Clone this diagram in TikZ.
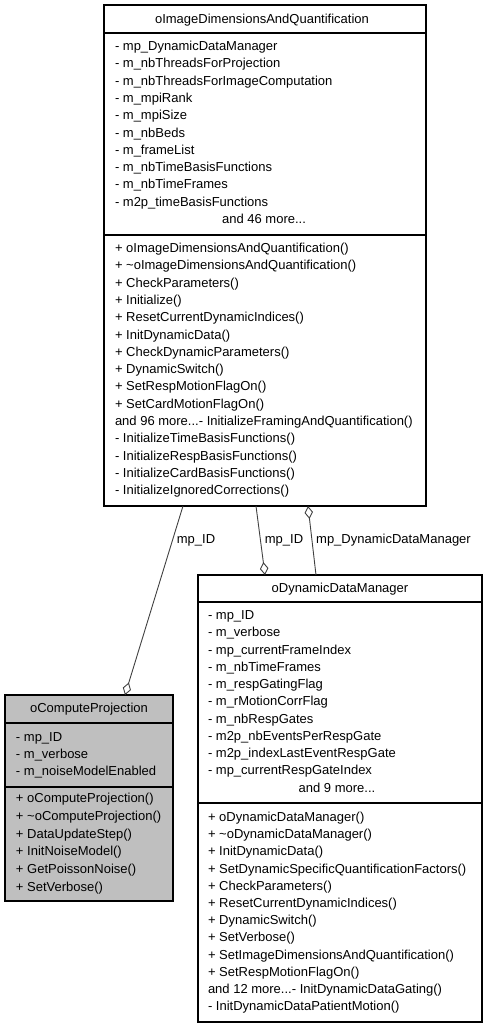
\documentclass[tikz,border=0pt]{standalone}
\usepackage{fontspec}
\setmainfont{Liberation Sans}
\usetikzlibrary{arrows.meta}
\newcommand{\moredots}{...}
\begin{document}
\begin{tikzpicture}[x=1pt,y=-1pt,
  every node/.style={font=\fontsize{13}{17.3}\selectfont, inner sep=0pt, outer sep=0pt},
  classbox/.style={draw=black, line width=1.2pt, rectangle, anchor=north west},
  grayfill/.style={fill=gray!50},
  memb/.style={anchor=base west},
  ctr/.style={anchor=base},
  sep/.style={draw=black, line width=1.2pt},
  conn/.style={draw=black!75, line width=0.9pt, -{Diamond[open,length=13pt,width=8.5pt]}}
]
\useasboundingbox (0,0) rectangle (488,1029);

% ---- oImageDimensionsAndQuantification
\node[classbox, minimum width=322pt, minimum height=501pt] (dim) at (104,5) {};
\draw[sep] ([yshift=-28pt]dim.north west) -- ([yshift=-28pt]dim.north east);
\draw[sep] ([yshift=-230pt]dim.north west) -- ([yshift=-230pt]dim.north east);
\node[ctr] (dimT) at (262,23.5) {oImageDimensionsAndQuantification};
\foreach \t [count=\i from 0] in {%
  - mp\_DynamicDataManager,
  - m\_nbThreadsForProjection,
  - m\_nbThreadsForImageComputation,
  - m\_mpiRank,
  - m\_mpiSize,
  - m\_nbBeds,
  - m\_frameList,
  - m\_nbTimeBasisFunctions,
  - m\_nbTimeFrames,
  - m2p\_timeBasisFunctions}
  \node[memb] (dimA\i) at (115,{50.5+17.3*\i}) {\t};
\node[ctr] (dimAm) at (264,223.5) {and 46 more\moredots};
\foreach \t [count=\i from 0] in {%
  + oImageDimensionsAndQuantification(),
  + \textasciitilde oImageDimensionsAndQuantification(),
  + CheckParameters(),
  + Initialize(),
  + ResetCurrentDynamicIndices(),
  + InitDynamicData(),
  + CheckDynamicParameters(),
  + DynamicSwitch(),
  + SetRespMotionFlagOn(),
  + SetCardMotionFlagOn(),
  and 96 more\moredots- InitializeFramingAndQuantification(),
  - InitializeTimeBasisFunctions(),
  - InitializeRespBasisFunctions(),
  - InitializeCardBasisFunctions(),
  - InitializeIgnoredCorrections()}
  \node[memb] (dimM\i) at (115,{252.5+17.3*\i}) {\t};

% ---- oDynamicDataManager
\node[classbox, minimum width=284pt, minimum height=447pt] (ddm) at (198,575) {};
\draw[sep] ([yshift=-27pt]ddm.north west) -- ([yshift=-27pt]ddm.north east);
\draw[sep] ([yshift=-228pt]ddm.north west) -- ([yshift=-228pt]ddm.north east);
\node[ctr] (ddmT) at (340,592.5) {oDynamicDataManager};
\foreach \t [count=\i from 0] in {%
  - mp\_ID,
  - m\_verbose,
  - mp\_currentFrameIndex,
  - m\_nbTimeFrames,
  - m\_respGatingFlag,
  - m\_rMotionCorrFlag,
  - m\_nbRespGates,
  - m2p\_nbEventsPerRespGate,
  - m2p\_indexLastEventRespGate,
  - mp\_currentRespGateIndex}
  \node[memb] (ddmA\i) at (208,{619.5+17.25*\i}) {\t};
\node[ctr] (ddmAm) at (337,792) {and 9 more\moredots};
\foreach \t [count=\i from 0] in {%
  + oDynamicDataManager(),
  + \textasciitilde oDynamicDataManager(),
  + InitDynamicData(),
  + SetDynamicSpecificQuantificationFactors(),
  + CheckParameters(),
  + ResetCurrentDynamicIndices(),
  + DynamicSwitch(),
  + SetVerbose(),
  + SetImageDimensionsAndQuantification(),
  + SetRespMotionFlagOn(),
  and 12 more\moredots- InitDynamicDataGating(),
  - InitDynamicDataPatientMotion()}
  \node[memb] (ddmM\i) at (208,{821.5+17.2*\i}) {\t};

% ---- oComputeProjection
\node[classbox, grayfill, minimum width=168pt, minimum height=206pt] (cp) at (5,695) {};
\draw[sep] ([yshift=-28pt]cp.north west) -- ([yshift=-28pt]cp.north east);
\draw[sep] ([yshift=-92pt]cp.north west) -- ([yshift=-92pt]cp.north east);
\node[ctr] (cpT) at (89,712.5) {oComputeProjection};
\foreach \t [count=\i from 0] in {%
  - mp\_ID,
  - m\_verbose,
  - m\_noiseModelEnabled}
  \node[memb] (cpA\i) at (16,{741.5+17.2*\i}) {\t};
\foreach \t [count=\i from 0] in {%
  + oComputeProjection(),
  + \textasciitilde oComputeProjection(),
  + DataUpdateStep(),
  + InitNoiseModel(),
  + GetPoissonNoise(),
  + SetVerbose()}
  \node[memb] (cpM\i) at (16,{802.8+17.7*\i}) {\t};

% ---- connectors
\draw[conn] ([xshift=-82pt]dim.south) -- ([xshift=36pt]cp.north);
\draw[conn] ([xshift=-9pt]dim.south) -- ([xshift=-75pt]ddm.north);
\draw[conn] ([xshift=-24pt]ddm.north) -- ([xshift=43pt]dim.south);
\node[ctr] (l1) at (196,543.5) {mp\_ID};
\node[ctr] (l2) at (284,543.5) {mp\_ID};
\node[ctr] (l3) at (393.5,543.5) {mp\_DynamicDataManager};
\end{tikzpicture}
\end{document}
